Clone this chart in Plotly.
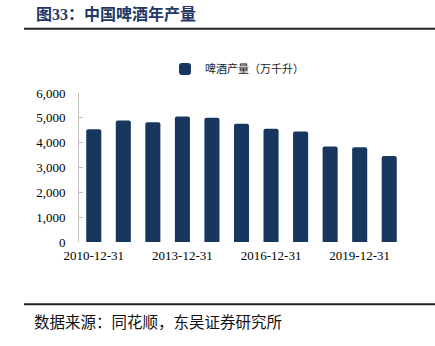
import plotly.graph_objects as go

categories = ["2010-12-31", "2011-12-31", "2012-12-31", "2013-12-31", "2014-12-31",
              "2015-12-31", "2016-12-31", "2017-12-31", "2018-12-31", "2019-12-31",
              "2020-12-31"]
production = [4544, 4895, 4827, 5056, 5000, 4758, 4556, 4452, 3847, 3819, 3468]
tick_labels = ["2010-12-31", "2013-12-31", "2016-12-31", "2019-12-31"]
y_ticks = [0, 1000, 2000, 3000, 4000, 5000, 6000]

W, H = 435, 346
L, R, T, B = 79, 404, 93, 241.7

def px(x):
    return (x - L) / (R - L)

def py(y):
    return (B - y) / (B - T)

navy = "#17375e"
serif = "Liberation Serif, Times New Roman, serif"
cjk = "Noto Sans CJK SC"

fig = go.Figure()
fig.add_trace(go.Bar(
    x=categories, y=production, name="啤酒产量（万千升）",
    marker=dict(color=navy, line=dict(width=0), cornerradius=2),
))

fig.update_layout(
    width=W, height=H,
    margin=dict(l=L, r=W - R, t=T, b=H - B, pad=0),
    paper_bgcolor="white", plot_bgcolor="white",
    bargap=0.49,
    showlegend=True,
    legend=dict(orientation="h", x=px(165), xanchor="left", y=py(69), yanchor="middle",
                font=dict(family=cjk, size=11, color="#222"),
                itemwidth=30, tracegroupgap=0, bgcolor="rgba(0,0,0,0)"),
    xaxis=dict(type="category", tickmode="array", tickvals=tick_labels, ticktext=tick_labels,
               showgrid=False, showline=False, ticks="", zeroline=False,
               tickfont=dict(family=serif, size=13, color="#000"),
               ticklabelstandoff=4),
    yaxis=dict(range=[0, 6000], tickmode="array", tickvals=y_ticks,
               tickformat=",d", showgrid=False, zeroline=False,
               showline=True, linecolor="#bfbfbf", linewidth=1,
               ticks="inside", ticklen=4, tickcolor="#bfbfbf",
               tickfont=dict(family=serif, size=13, color="#000"),
               ticklabelstandoff=10),
    font=dict(family=serif),
)

fig.add_annotation(xref="paper", yref="paper", x=px(34), y=py(14), xanchor="left", yanchor="middle",
                   text="<b>图33：中国啤酒年产量</b>", showarrow=False,
                   font=dict(family=serif + ", " + cjk, size=16, color="#1f3864"))
fig.add_annotation(xref="paper", yref="paper", x=px(32), y=py(321), xanchor="left", yanchor="middle",
                   text="数据来源：同花顺，东吴证券研究所", showarrow=False,
                   font=dict(family=cjk, size=15.5, color="#111"))

for yline in (29, 303.7):
    fig.add_shape(type="line", xref="paper", yref="paper", x0=px(24), x1=px(435),
                  y0=py(yline), y1=py(yline), line=dict(color="#222", width=2))

fig.write_html("out.html")
